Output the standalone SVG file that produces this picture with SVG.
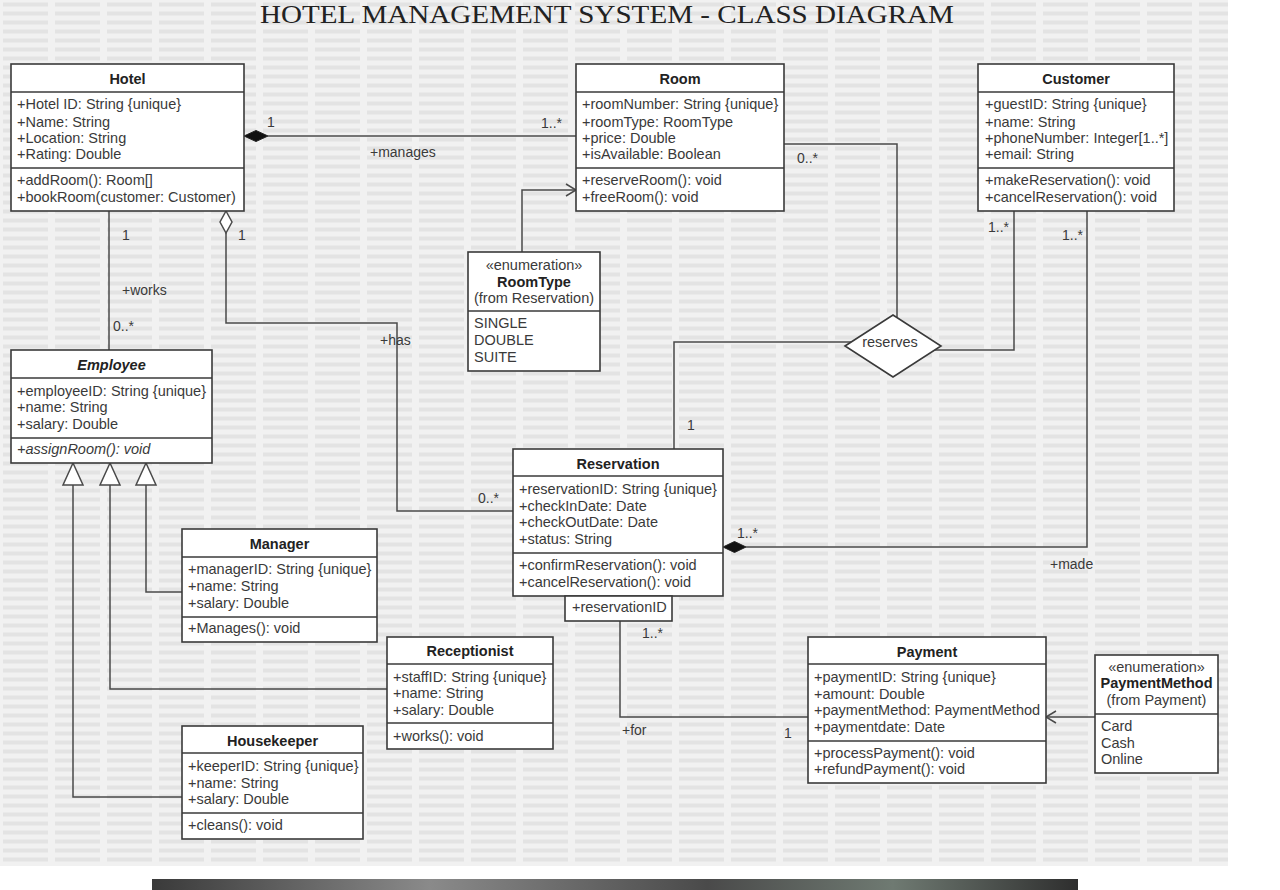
<svg xmlns="http://www.w3.org/2000/svg" width="1280" height="890" viewBox="0 0 1280 890">
<defs>
<pattern id="wm" width="52" height="9" patternUnits="userSpaceOnUse">
<rect width="52" height="9" fill="#f1f1f1"/>
<rect x="3" y="2.5" width="45" height="4" fill="#e3e3e3"/>
</pattern>
<linearGradient id="strip" x1="0" y1="0" x2="1" y2="0">
<stop offset="0" stop-color="#3a3a3a"/>
<stop offset="0.3" stop-color="#8a8a8a"/>
<stop offset="0.6" stop-color="#4a4a4a"/>
<stop offset="0.8" stop-color="#6f7a72"/>
<stop offset="1" stop-color="#2e2e2e"/>
</linearGradient>
</defs>
<style>
.box{fill:#fff;stroke:#3a3a3a;stroke-width:1.6}
.sep{stroke:#3a3a3a;stroke-width:1.6}
.ln{fill:none;stroke:#4a4a4a;stroke-width:1.5}
.arr{fill:none;stroke:#4a4a4a;stroke-width:1.5}
.fd{fill:#111;stroke:#222;stroke-width:1}
.hd{fill:#fff;stroke:#4a4a4a;stroke-width:1.5}
text{font-family:"Liberation Sans",Arial,sans-serif;font-size:14.5px;fill:#3a3a3a}
.h{font-weight:bold;text-anchor:middle;fill:#222}
.c{text-anchor:middle}
.i{font-style:italic}
.l{font-size:14px}
.title{font-family:"Liberation Serif","Times New Roman",serif;font-size:26px;fill:#222}
</style>
<rect width="1280" height="890" fill="#fff"/>
<rect x="0" y="0" width="1228" height="866" fill="url(#wm)"/>
<rect x="152" y="879" width="926" height="11" fill="url(#strip)"/>
<text class="title" x="260" y="23" textLength="694" lengthAdjust="spacingAndGlyphs">HOTEL MANAGEMENT SYSTEM - CLASS DIAGRAM</text>

<g id="connectors">
<path class="ln" d="M268,136 H576"/>
<polygon class="fd" points="244,136 256,130.5 268,136 256,141.5"/>
<path class="ln" d="M109,211 V350"/>
<path class="ln" d="M226,233 V323 H397 V511 H513"/>
<polygon class="hd" points="226,211 232,222 226,233 220,222"/>
<path class="ln" d="M522,252 V190 H576"/>
<polyline class="arr" points="566,184 576,190 566,196"/>
<path class="ln" d="M784,144 H897 V317"/>
<path class="ln" d="M852,342 H674 V449"/>
<path class="ln" d="M935,350 H1014 V211"/>
<path class="ln" d="M1087,211 V547 H746"/>
<polygon class="fd" points="723,547 734.5,541.5 746,547 734.5,552.5"/>
<path class="ln" d="M146,485 V592 H182"/>
<path class="ln" d="M110,485 V689 H387"/>
<path class="ln" d="M73,485 V797 H182"/>
<polygon class="hd" points="73,463 83,485 63,485"/>
<polygon class="hd" points="110,463 120,485 100,485"/>
<polygon class="hd" points="146,463 156,485 136,485"/>
<path class="ln" d="M620,621 V717 H808"/>
<path class="ln" d="M1095,717 H1046"/>
<polyline class="arr" points="1056,711 1046,717 1056,723"/>
<text class="l" x="267" y="127">1</text>
<text class="l" x="541" y="128">1..*</text>
<text class="l" x="370" y="157">+manages</text>
<text class="l" x="797" y="163">0..*</text>
<text class="l" x="122" y="240">1</text>
<text class="l" x="238" y="240">1</text>
<text class="l" x="122" y="295">+works</text>
<text class="l" x="113" y="331">0..*</text>
<text class="l" x="380" y="345">+has</text>
<text class="l" x="988" y="232">1..*</text>
<text class="l" x="1062" y="240">1..*</text>
<text class="l" x="687" y="430">1</text>
<text class="l" x="478" y="503">0..*</text>
<text class="l" x="737" y="538">1..*</text>
<text class="l" x="1050" y="569">+made</text>
<text class="l" x="642" y="638">1..*</text>
<text class="l" x="622" y="735">+for</text>
<text class="l" x="784" y="738">1</text>
</g>

<g id="reserves">
<polygon class="box" points="845,346 893,315 941,346 893,377"/>
<text class="c" x="890" y="347">reserves</text>
</g>

<g id="hotel">
<rect class="box" x="11" y="64" width="233" height="147"/>
<line class="sep" x1="11" y1="92" x2="244" y2="92"/>
<line class="sep" x1="11" y1="168" x2="244" y2="168"/>
<text class="h" x="127.5" y="84">Hotel</text>
<text x="17" y="109.3">+Hotel ID: String {unique}</text>
<text x="17" y="126.5">+Name: String</text>
<text x="17" y="142.7">+Location: String</text>
<text x="17" y="159.3">+Rating: Double</text>
<text x="17" y="185">+addRoom(): Room[]</text>
<text x="17" y="201.7">+bookRoom(customer: Customer)</text>
</g>

<g id="room">
<rect class="box" x="576" y="64" width="208" height="147"/>
<line class="sep" x1="576" y1="92" x2="784" y2="92"/>
<line class="sep" x1="576" y1="168" x2="784" y2="168"/>
<text class="h" x="680" y="84">Room</text>
<text x="582" y="109.3">+roomNumber: String {unique}</text>
<text x="582" y="126.5">+roomType: RoomType</text>
<text x="582" y="142.7">+price: Double</text>
<text x="582" y="159.3">+isAvailable: Boolean</text>
<text x="582" y="185">+reserveRoom(): void</text>
<text x="582" y="201.7">+freeRoom(): void</text>
</g>

<g id="customer">
<rect class="box" x="978" y="64" width="196" height="147"/>
<line class="sep" x1="978" y1="92" x2="1174" y2="92"/>
<line class="sep" x1="978" y1="168" x2="1174" y2="168"/>
<text class="h" x="1076" y="84">Customer</text>
<text x="985" y="109.3">+guestID: String {unique}</text>
<text x="985" y="126.5">+name: String</text>
<text x="985" y="142.7">+phoneNumber: Integer[1..*]</text>
<text x="985" y="159.3">+email: String</text>
<text x="985" y="185">+makeReservation(): void</text>
<text x="985" y="201.7">+cancelReservation(): void</text>
</g>

<g id="roomtype">
<rect class="box" x="468" y="252" width="132" height="119"/>
<line class="sep" x1="468" y1="311" x2="600" y2="311"/>
<text class="c" x="534" y="270">«enumeration»</text>
<text class="h" x="534" y="287">RoomType</text>
<text class="c" x="534" y="303">(from Reservation)</text>
<text x="474" y="328">SINGLE</text>
<text x="474" y="345">DOUBLE</text>
<text x="474" y="362">SUITE</text>
</g>

<g id="employee">
<rect class="box" x="11" y="350" width="201" height="113"/>
<line class="sep" x1="11" y1="378" x2="212" y2="378"/>
<line class="sep" x1="11" y1="438" x2="212" y2="438"/>
<text class="h i" x="111.5" y="370">Employee</text>
<text x="17" y="395.7">+employeeID: String {unique}</text>
<text x="17" y="412.3">+name: String</text>
<text x="17" y="428.7">+salary: Double</text>
<text class="i" x="17" y="454">+assignRoom(): void</text>
</g>

<g id="reservation">
<rect class="box" x="513" y="449" width="210" height="147"/>
<line class="sep" x1="513" y1="476" x2="723" y2="476"/>
<line class="sep" x1="513" y1="553" x2="723" y2="553"/>
<text class="h" x="618" y="468.5">Reservation</text>
<text x="519" y="494">+reservationID: String {unique}</text>
<text x="519" y="511">+checkInDate: Date</text>
<text x="519" y="527">+checkOutDate: Date</text>
<text x="519" y="544">+status: String</text>
<text x="519" y="570">+confirmReservation(): void</text>
<text x="519" y="586.7">+cancelReservation(): void</text>
<rect class="box" x="565" y="596" width="107" height="25"/>
<text x="572" y="612">+reservationID</text>
</g>

<g id="manager">
<rect class="box" x="182" y="529" width="195" height="113"/>
<line class="sep" x1="182" y1="557" x2="377" y2="557"/>
<line class="sep" x1="182" y1="617" x2="377" y2="617"/>
<text class="h" x="279.5" y="549">Manager</text>
<text x="188" y="574.3">+managerID: String {unique}</text>
<text x="188" y="591">+name: String</text>
<text x="188" y="607.7">+salary: Double</text>
<text x="188" y="633.3">+Manages(): void</text>
</g>

<g id="receptionist">
<rect class="box" x="387" y="637" width="166" height="112"/>
<line class="sep" x1="387" y1="664" x2="553" y2="664"/>
<line class="sep" x1="387" y1="723" x2="553" y2="723"/>
<text class="h" x="470" y="656">Receptionist</text>
<text x="393" y="681.7">+staffID: String {unique}</text>
<text x="393" y="698.3">+name: String</text>
<text x="393" y="715">+salary: Double</text>
<text x="393" y="741">+works(): void</text>
</g>

<g id="housekeeper">
<rect class="box" x="182" y="726" width="181" height="113"/>
<line class="sep" x1="182" y1="753" x2="363" y2="753"/>
<line class="sep" x1="182" y1="813" x2="363" y2="813"/>
<text class="h" x="272.5" y="745.7">Housekeeper</text>
<text x="188" y="771">+keeperID: String {unique}</text>
<text x="188" y="787.7">+name: String</text>
<text x="188" y="804.3">+salary: Double</text>
<text x="188" y="830">+cleans(): void</text>
</g>

<g id="payment">
<rect class="box" x="808" y="637" width="238" height="146"/>
<line class="sep" x1="808" y1="664" x2="1046" y2="664"/>
<line class="sep" x1="808" y1="741" x2="1046" y2="741"/>
<text class="h" x="927" y="656.7">Payment</text>
<text x="814" y="682.3">+paymentID: String {unique}</text>
<text x="814" y="699">+amount: Double</text>
<text x="814" y="715">+paymentMethod: PaymentMethod</text>
<text x="814" y="732.3">+paymentdate: Date</text>
<text x="814" y="757.7">+processPayment(): void</text>
<text x="814" y="774.3">+refundPayment(): void</text>
</g>

<g id="paymentmethod">
<rect class="box" x="1095" y="655" width="123" height="118"/>
<line class="sep" x1="1095" y1="714" x2="1218" y2="714"/>
<text class="c" x="1156.5" y="672">«enumeration»</text>
<text class="h" x="1156.5" y="688">PaymentMethod</text>
<text class="c" x="1156.5" y="704.5">(from Payment)</text>
<text x="1101" y="731">Card</text>
<text x="1101" y="748">Cash</text>
<text x="1101" y="763.5">Online</text>
</g>
</svg>
